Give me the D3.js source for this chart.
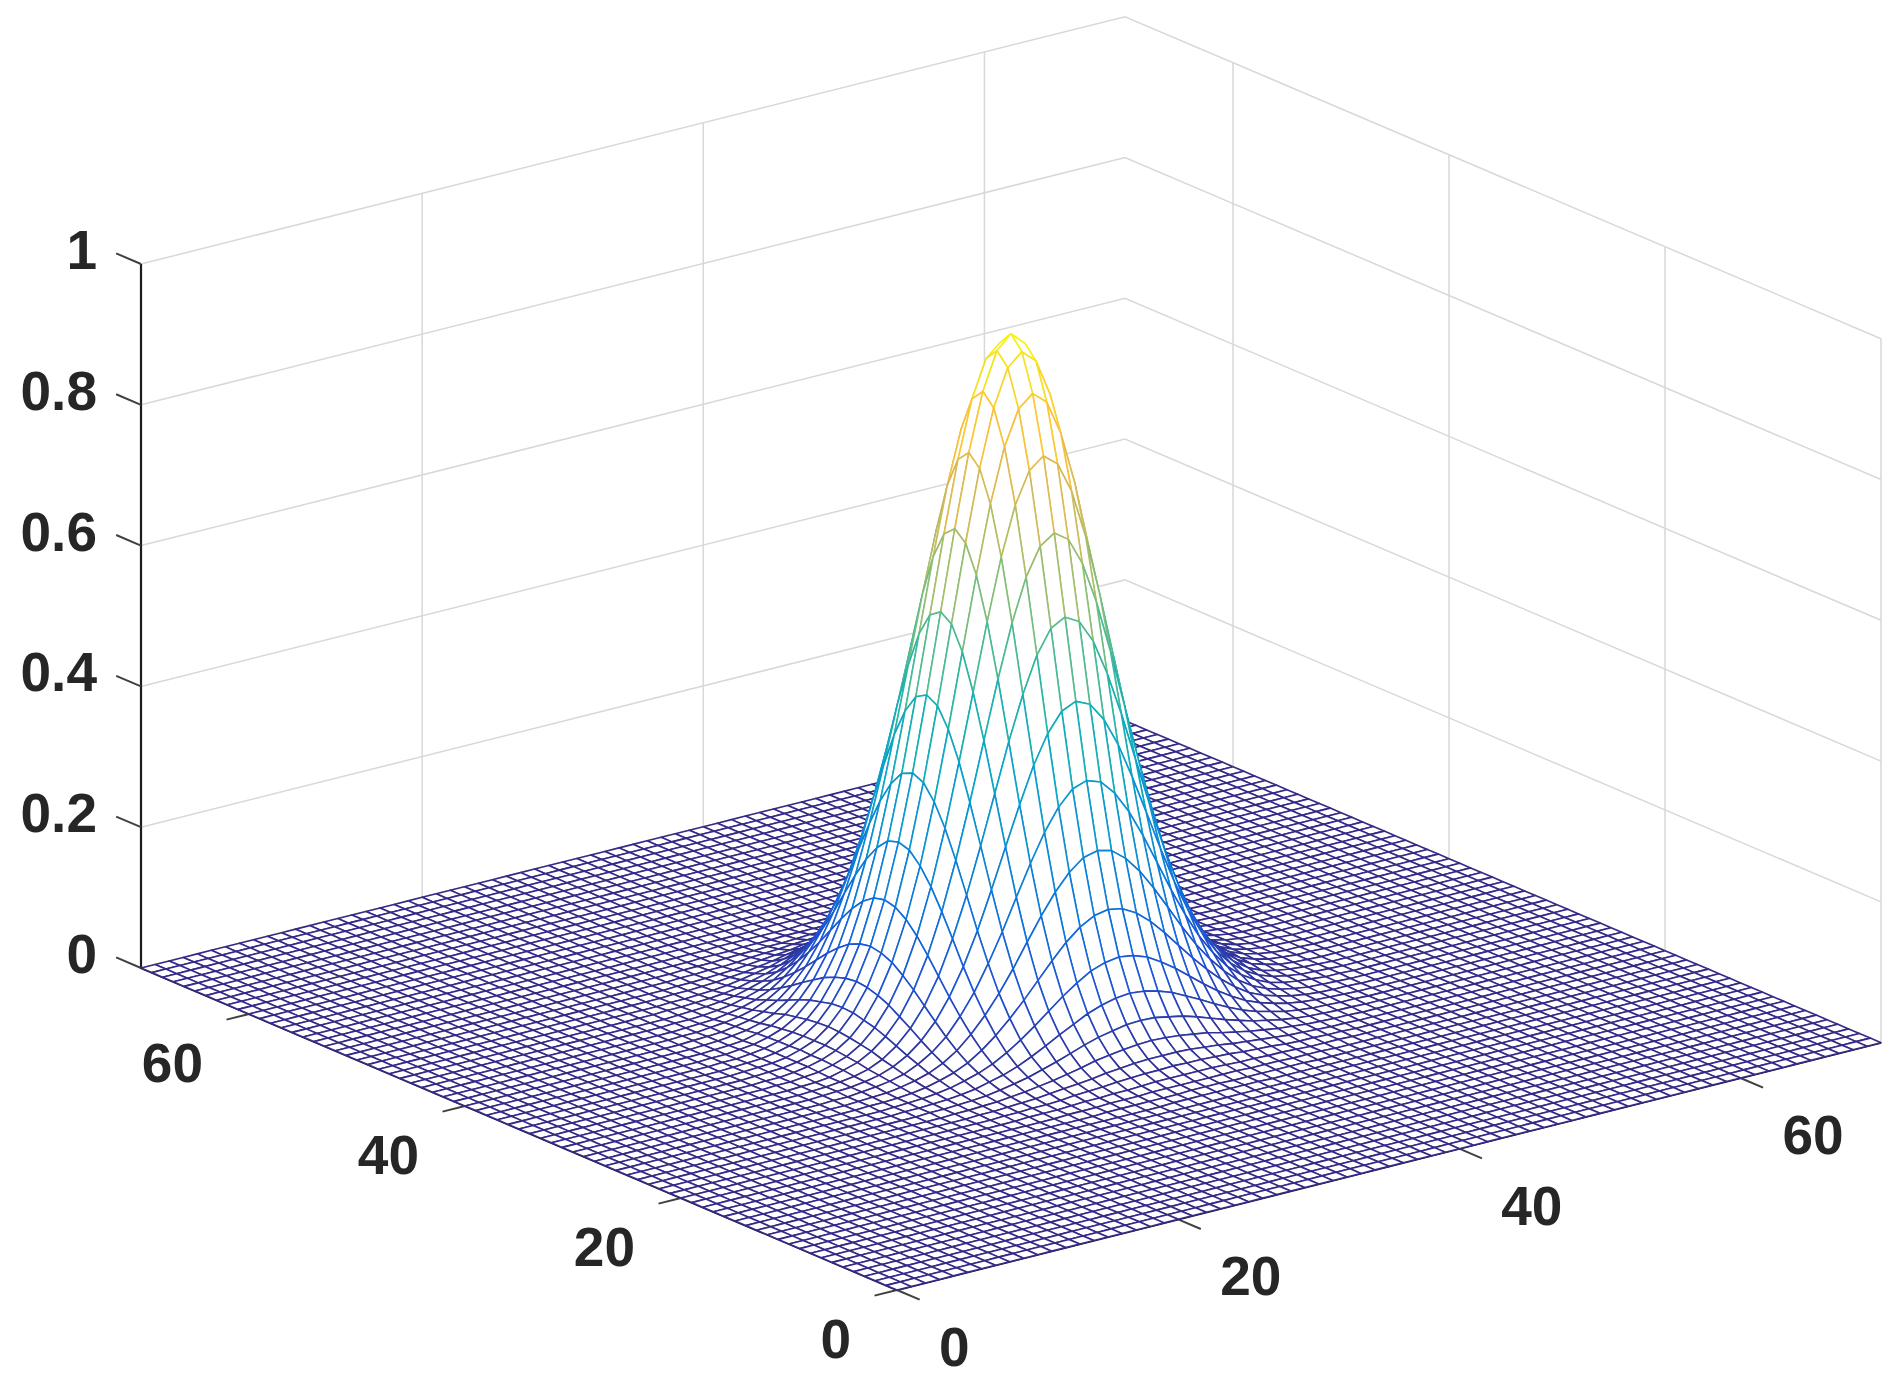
<!DOCTYPE html>
<html>
<head>
<meta charset="utf-8">
<script src="https://cdn.jsdelivr.net/npm/d3@7"></script>
<style>
  html, body { margin: 0; padding: 0; background: #fff; }
  svg { display: block; }
  text { font-family: "Liberation Sans", Arial, sans-serif; font-weight: bold; font-size: 55px; fill: #262626; }
</style>
</head>
<body>
<script>
// Tick values of the three axes
const xTicks = [0, 20, 40, 60];
const yTicks = [0, 20, 40, 60];
const zTicks = [0, 0.2, 0.4, 0.6, 0.8, 1];
const zTickLabels = ['0', '0.2', '0.4', '0.6', '0.8', '1'];

// Mesh nodes run 0..70 in both directions, the peak sits on node (35, 35)
const gridNodes = d3.range(0, 71);
const peakNode = 35;

// Heights, by node distance from the peak along x (rows) and y (columns).
// The bump looks the same in all four quadrants. Nodes past the table are on the floor (0).
const peakHeights = [
  [.954, .935, .882, .800, .697, .584, .471, .365, .272, .195, .134, .089, .057, .035, .020, .012, .006, .003, .002, .001],
  [.935, .917, .865, .784, .683, .573, .462, .358, .267, .191, .131, .087, .056, .034, .020, .011, .006, .003, .002, .001],
  [.882, .865, .816, .740, .644, .540, .435, .337, .251, .180, .124, .082, .052, .032, .019, .011, .006, .003, .001, .001],
  [.800, .784, .740, .671, .584, .489, .395, .306, .228, .163, .112, .075, .048, .029, .017, .010, .005, .003, .001, .001],
  [.697, .683, .644, .584, .509, .427, .344, .267, .199, .142, .098, .065, .042, .026, .015, .009, .004, .002, .001],
  [.584, .573, .540, .489, .427, .358, .289, .224, .167, .119, .082, .055, .035, .021, .012, .007, .004, .002, .001],
  [.471, .462, .435, .395, .344, .289, .233, .180, .134, .096, .066, .044, .028, .017, .010, .006, .003, .002, .001],
  [.365, .358, .337, .306, .267, .224, .180, .140, .104, .075, .051, .034, .022, .013, .008, .005, .003, .001, .001],
  [.272, .267, .251, .228, .199, .167, .134, .104, .078, .056, .038, .025, .016, .010, .006, .003, .002, .001],
  [.195, .191, .180, .163, .142, .119, .096, .075, .056, .040, .027, .018, .012, .007, .004, .002, .001, .001],
  [.134, .131, .124, .112, .098, .082, .066, .051, .038, .027, .019, .013, .008, .005, .003, .002, .001],
  [.089, .087, .082, .075, .065, .055, .044, .034, .025, .018, .013, .008, .005, .003, .002, .001, .001],
  [.057, .056, .052, .048, .042, .035, .028, .022, .016, .012, .008, .005, .003, .002, .001, .001],
  [.035, .034, .032, .029, .026, .021, .017, .013, .010, .007, .005, .003, .002, .001, .001],
  [.020, .020, .019, .017, .015, .012, .010, .008, .006, .004, .003, .002, .001, .001],
  [.012, .011, .011, .010, .009, .007, .006, .005, .003, .002, .002, .001, .001],
  [.006, .006, .006, .005, .004, .004, .003, .003, .002, .001, .001, .001],
  [.003, .003, .003, .003, .002, .002, .002, .001, .001, .001],
  [.002, .002, .001, .001, .001, .001, .001, .001],
  [.001, .001, .001, .001]
];

// Parula colormap stops
const colorStops = ['#352a87', '#2053d4', '#0d75dc', '#108ed2', '#06a7c6', '#25b5a9', '#65be86', '#a5be6b', '#d9ba56', '#ffc337', '#f5e41d', '#f9fb0e'];
const colorStopPositions = [0, 6, 12, 18, 24, 30, 36, 42, 48, 54, 60, 63];

const width = 1899;
const height = 1379;

const svg = d3.select('body')
  .append('svg')
  .attr('width', width)
  .attr('height', height);

// The reference is a resampled bitmap, so everything gets a slight softening
svg.append('defs')
  .append('filter')
  .attr('id', 'soften')
  .attr('x', 0).attr('y', 0).attr('width', 1).attr('height', 1)
  .attr('filterUnits', 'objectBoundingBox')
  .append('feGaussianBlur')
  .attr('stdDeviation', 0.6);

const plot = svg.append('g').attr('filter', 'url(#soften)');

plot.append('rect')
  .attr('width', width)
  .attr('height', height)
  .attr('fill', '#fff');

// Orthographic projection: each data axis maps to a screen offset from the front corner
const origin = [897, 1290];
const xScale = d3.scaleLinear().domain([0, 70]).range([[0, 0], [984, -247.3]]);
const yScale = d3.scaleLinear().domain([0, 70]).range([[0, 0], [-756, -322]]);
const zScale = d3.scaleLinear().domain([0, 1]).range([0, -704]);

function project(x, y, z) {
  const a = xScale(x);
  const b = yScale(y);
  return [origin[0] + a[0] + b[0], origin[1] + a[1] + b[1] + zScale(z)];
}

function heightAt(x, y) {
  const row = peakHeights[Math.abs(x - peakNode)];
  return (row && row[Math.abs(y - peakNode)]) || 0;
}

const zMax = d3.max(peakHeights.flat());
const colorScale = d3.scaleLinear()
  .domain(colorStopPositions.map(p => p / 63 * zMax))
  .range(colorStops);

const line = d3.line();

// Grid on the floor and the two back walls
const gridColor = '#d8d8d8';
const grid = plot.append('g')
  .attr('fill', 'none')
  .attr('stroke', gridColor)
  .attr('stroke-width', 1.5);

const gridLines = [];
zTicks.forEach(z => gridLines.push([project(0, 70, z), project(70, 70, z), project(70, 0, z)]));
xTicks.forEach(x => {
  gridLines.push([project(x, 0, 0), project(x, 70, 0), project(x, 70, 1)]);
});
yTicks.forEach(y => {
  gridLines.push([project(0, y, 0), project(70, y, 0), project(70, y, 1)]);
});

grid.selectAll('path')
  .data(gridLines)
  .enter()
  .append('path')
  .attr('d', line);

// Axis lines
const axisColor = '#1c1c1c';
const axes = plot.append('g')
  .attr('fill', 'none')
  .attr('stroke', axisColor)
  .attr('stroke-width', 2.2);

axes.append('path').attr('d', line([project(0, 70, 1), project(0, 70, 0), project(0, 0, 0), project(70, 0, 0)]));

// Tick marks, length measured in data units along the neighbouring axis
const tickLines = [
  ...xTicks.map(x => [project(x, 0, 0), project(x, -2.1, 0)]),
  ...yTicks.map(y => [project(0, y, 0), project(-1.6, y, 0)]),
  ...zTicks.map(z => [project(0, 70, z), project(0, 72.3, z)])
];

plot.append('g')
  .attr('fill', 'none')
  .attr('stroke', '#404040')
  .attr('stroke-width', 2)
  .selectAll('path')
  .data(tickLines)
  .enter()
  .append('path')
  .attr('d', line);

// Mesh cells, painted back to front with white faces so the hidden parts drop out
const cells = [];
gridNodes.slice(0, -1).reverse().forEach(x => {
  gridNodes.slice(0, -1).reverse().forEach(y => {
    cells.push({ x, y });
  });
});

const cellCorners = d => [
  [d.x, d.y], [d.x + 1, d.y], [d.x + 1, d.y + 1], [d.x, d.y + 1]
];

const cellLine = d3.line().curve(d3.curveLinearClosed);

plot.append('g')
  .attr('fill', '#fff')
  .attr('stroke-width', 1.6)
  .attr('stroke-linejoin', 'round')
  .selectAll('path')
  .data(cells)
  .enter()
  .append('path')
  .attr('d', d => cellLine(cellCorners(d).map(c => project(c[0], c[1], heightAt(c[0], c[1])))))
  .attr('stroke', d => colorScale(d3.mean(cellCorners(d), c => heightAt(c[0], c[1]))));

// Tick labels
const labels = plot.append('g');

labels.selectAll('.x-label')
  .data(xTicks)
  .enter()
  .append('text')
  .attr('class', 'x-label')
  .attr('x', d => project(d, 0, 0)[0] + 42)
  .attr('y', d => project(d, 0, 0)[1] + 76)
  .attr('text-anchor', 'start')
  .text(d => d);

labels.selectAll('.y-label')
  .data(yTicks)
  .enter()
  .append('text')
  .attr('class', 'y-label')
  .attr('x', d => project(0, d, 0)[0] - 46)
  .attr('y', d => project(0, d, 0)[1] + 68)
  .attr('text-anchor', 'end')
  .text(d => d);

labels.selectAll('.z-label')
  .data(zTicks)
  .enter()
  .append('text')
  .attr('class', 'z-label')
  .attr('x', 97)
  .attr('y', d => project(0, 70, d)[1] + 5)
  .attr('text-anchor', 'end')
  .text((d, i) => zTickLabels[i]);
</script>
</body>
</html>
